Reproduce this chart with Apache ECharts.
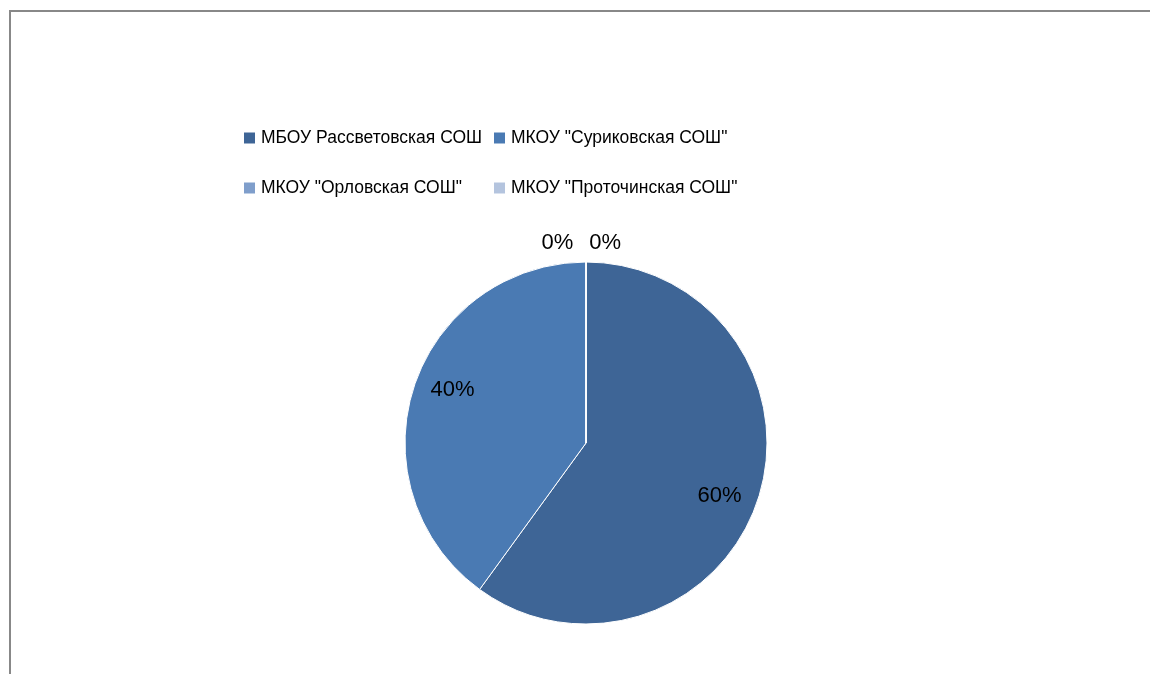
<!DOCTYPE html>
<html>
<head>
<meta charset="utf-8">
<script src="https://cdn.jsdelivr.net/npm/echarts@6/dist/echarts.min.js"></script>
<style>
  html, body { margin: 0; padding: 0; background: #fff; }
  #chart { width: 1150px; height: 674px; }
</style>
</head>
<body>
<div id="chart"></div>
<script>
const schools = [
  "МБОУ Рассветовская СОШ",
  'МКОУ "Суриковская СОШ"',
  'МКОУ "Орловская СОШ"',
  'МКОУ "Проточинская СОШ"'
];
const shares = [60, 40, 0, 0];
const colors = ["#3e6596", "#4a7ab3", "#7f9ecb", "#b4c4de"];

const font = "'Liberation Sans', sans-serif";
const myChart = echarts.init(document.getElementById("chart"));

const legendBase = {
  orient: "vertical",
  top: 123,
  itemWidth: 13,
  itemHeight: 13,
  itemGap: 30,
  icon: "rect",
  selectedMode: false,
  textStyle: { fontFamily: font, fontSize: 17.5, lineHeight: 20, color: "#000" }
};

const option = {
  color: colors,
  animation: false,
  graphic: [
    {
      type: "rect",
      shape: { x: 10, y: 11, width: 1200, height: 700 },
      style: { fill: "none", stroke: "#888", lineWidth: 2 }
    }
  ],
  legend: [
    Object.assign({}, legendBase, { left: 237, data: [schools[0], schools[2]] }),
    Object.assign({}, legendBase, { left: 487, data: [schools[1], schools[3]] })
  ],
  series: [
    {
      type: "pie",
      center: [586, 443],
      radius: 181,
      startAngle: 90,
      clockwise: true,
      silent: true,
      label: { show: false },
      labelLine: { show: false },
      itemStyle: { borderColor: "#fff", borderWidth: 1 },
      data: schools.map((name, i) => ({ name, value: shares[i] }))
    },
    {
      // invisible ring that only carries the percentage labels
      type: "pie",
      center: [586, 443],
      radius: [100, 181],
      startAngle: 86.5,
      clockwise: true,
      silent: true,
      legendHoverLink: false,
      avoidLabelOverlap: false,
      itemStyle: { color: "transparent" },
      label: {
        position: "inside",
        formatter: "{d}%",
        fontFamily: font,
        fontSize: 22,
        color: "#000"
      },
      labelLayout: function (p) {
        if (shares[p.dataIndex] !== 0) return {};
        return p.dataIndex === 2 ? { align: "right", dx: -30 } : { align: "left", dx: -14 };
      },
      data: schools.map((name, i) => {
        const item = { name, value: shares[i] };
        if (shares[i] === 0) {
          item.label = { position: "outside" };
          item.labelLine = { show: false, length: 19, length2: 0 };
        }
        return item;
      })
    }
  ]
};

myChart.setOption(option);
</script>
</body>
</html>
